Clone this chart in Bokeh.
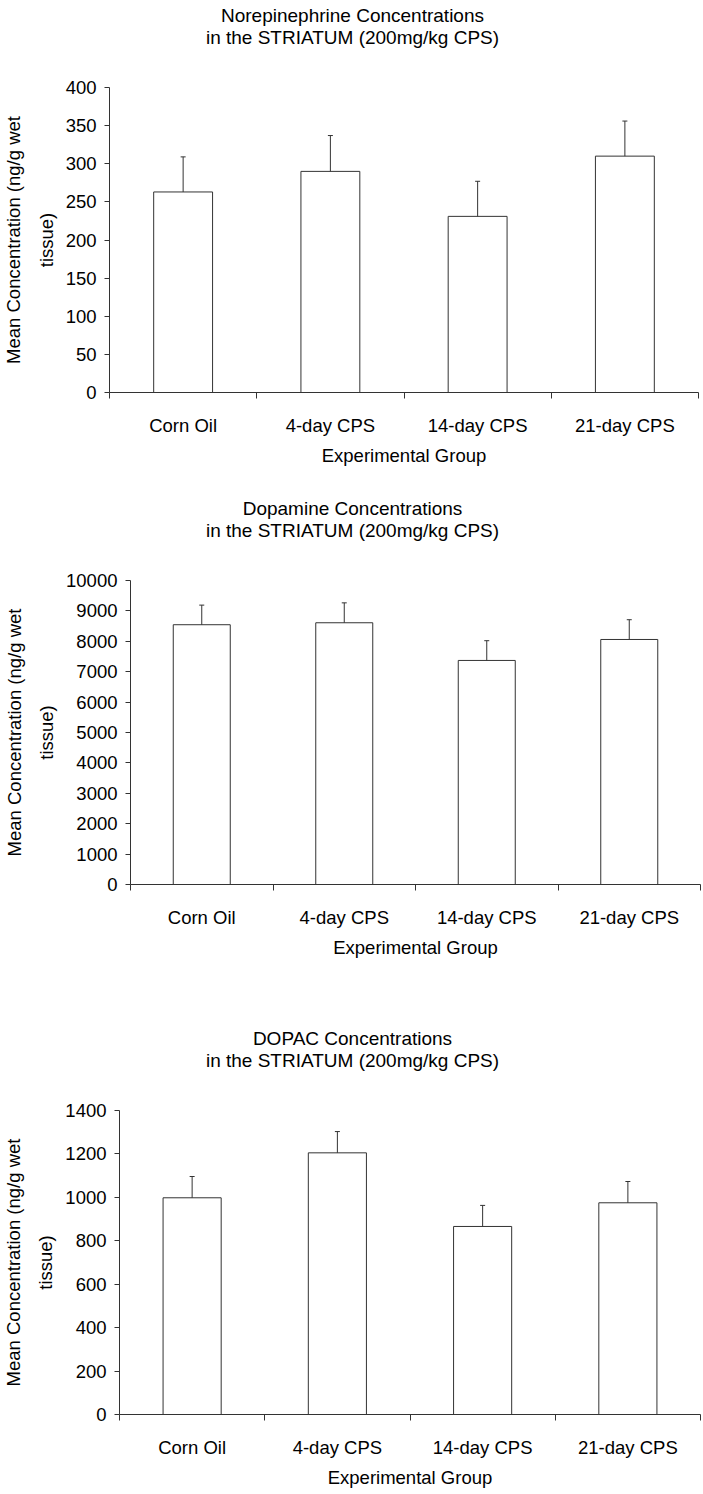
from bokeh.plotting import figure
from bokeh.layouts import column, row
from bokeh.models import (ColumnDataSource, Range1d, FixedTicker,
                          Whisker, TeeHead, Label, BasicTickFormatter)
from bokeh.embed import file_html
from bokeh.resources import INLINE

# ---------------- data ----------------
groups = ["Corn Oil", "4-day CPS", "14-day CPS", "21-day CPS"]

ne_mean = [263, 290, 231, 310]
ne_err = [46, 47, 46, 46]
ne_ticks = [0, 50, 100, 150, 200, 250, 300, 350, 400]

da_mean = [8545, 8610, 7370, 8060]
da_err = [645, 655, 650, 650]
da_ticks = [0, 1000, 2000, 3000, 4000, 5000, 6000, 7000, 8000, 9000, 10000]

dopac_mean = [998, 1205, 866, 975]
dopac_err = [98, 98, 97, 98]
dopac_ticks = [0, 200, 400, 600, 800, 1000, 1200, 1400]

title_line2 = "in the STRIATUM (200mg/kg CPS)"
ylabel = "Mean Concentration (ng/g wet\ntissue)"
xlabel = "Experimental Group"

# ---------------- style ----------------
FONT = "Liberation Sans"
FS = "18.5px"
TFS = "19px"
AX = "#333333"
TXT = "#000000"
W = 703


def title_fig(line1, height, y1, y2):
    p = figure(width=W, height=height, x_range=Range1d(0, W), y_range=Range1d(0, height),
               output_backend="svg", toolbar_location=None, min_border=0,
               x_axis_location=None, y_axis_location=None)
    p.outline_line_color = None
    p.xgrid.visible = False
    p.ygrid.visible = False
    common = dict(text_font=FONT, text_color=TXT, text_align="center",
                  text_baseline="middle", text_font_size=TFS)
    p.add_layout(Label(x=352, y=height - y1, text=line1, **common))
    p.add_layout(Label(x=352, y=height - y2, text=title_line2, **common))
    return p


def chart_block(means, errs, yticks, b_left, b_right, frame_h, b_bottom):
    n = len(groups)
    slot = [i + 0.5 for i in range(n)]          # centre of each category slot
    src = ColumnDataSource(dict(x=slot, group=groups, mean=means,
                                upper=[m + e for m, e in zip(means, errs)]))
    b_top = 12
    height = b_top + frame_h + b_bottom
    p = figure(width=W, height=height,
               x_range=Range1d(0, n),
               y_range=Range1d(yticks[0], yticks[-1]),
               output_backend="svg", toolbar_location=None,
               min_border_left=b_left, min_border_right=b_right,
               min_border_top=b_top, min_border_bottom=b_bottom)
    p.outline_line_color = None
    p.xgrid.visible = False
    p.ygrid.visible = False

    # y axis
    ya = p.yaxis[0]
    ya.ticker = FixedTicker(ticks=yticks)
    ya.formatter = BasicTickFormatter(use_scientific=False)
    ya.major_tick_out = 5
    ya.major_tick_in = 0
    ya.minor_tick_line_color = None
    ya.major_label_standoff = 8
    ya.axis_line_color = AX
    ya.major_tick_line_color = AX
    ya.major_label_text_font = FONT
    ya.major_label_text_font_size = FS
    ya.major_label_text_color = TXT
    ya.axis_label = ylabel
    ya.axis_label_text_font = FONT
    ya.axis_label_text_font_size = FS
    ya.axis_label_text_font_style = "normal"
    ya.axis_label_text_color = TXT
    ya.axis_label_text_line_height = 1.54
    ya.axis_label_standoff = 6

    # x axis: labels at category centres, ticks at category boundaries
    xa = p.xaxis[0]
    xa.ticker = FixedTicker(ticks=slot, minor_ticks=list(range(n + 1)))
    xa.major_label_overrides = {s: g for s, g in zip(slot, groups)}
    xa.major_tick_out = 0
    xa.major_tick_in = 0
    xa.major_tick_line_color = None
    xa.minor_tick_out = 6
    xa.minor_tick_in = 0
    xa.minor_tick_line_color = AX
    xa.axis_line_color = AX
    xa.major_label_standoff = 16
    xa.major_label_text_font = FONT
    xa.major_label_text_font_size = FS
    xa.major_label_text_color = TXT
    xa.axis_label = xlabel
    xa.axis_label_text_font = FONT
    xa.axis_label_text_font_size = FS
    xa.axis_label_text_font_style = "normal"
    xa.axis_label_text_color = TXT
    xa.axis_label_standoff = 6

    # bars
    p.vbar(x="x", top="mean", bottom=0, width=0.4, source=src,
           fill_color="white", line_color=AX, line_width=1)

    # error bars (upper only)
    w = Whisker(source=src, base="x", upper="upper", lower="mean",
                dimension="height", line_color=AX, line_width=1,
                upper_head=TeeHead(size=5, line_color=AX, line_width=1),
                lower_head=None, level="annotation")
    p.add_layout(w)
    return row(p)


t1 = title_fig("Norepinephrine Concentrations", 75, 15, 37)
c1 = chart_block(ne_mean, ne_err, ne_ticks, 108, 5, 305, 88)

t2 = title_fig("Dopamine Concentrations", 88, 28, 50)
c2 = chart_block(da_mean, da_err, da_ticks, 129, 3, 304, 106)

t3 = title_fig("DOPAC Concentrations", 108, 48, 70)
c3 = chart_block(dopac_mean, dopac_err, dopac_ticks, 119, 3, 304, 80)

layout = column(t1, c1, t2, c2, t3, c3)
open("out.html", "w").write(file_html(layout, INLINE))
